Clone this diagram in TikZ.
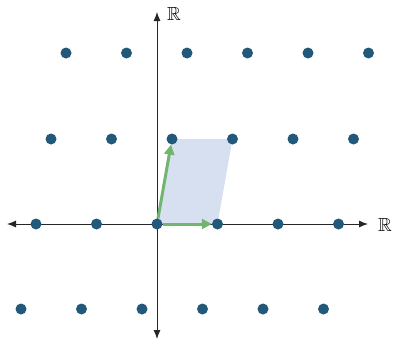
\documentclass[tikz,border=0pt]{standalone}
\usepackage{amssymb}
\usetikzlibrary{arrows.meta,backgrounds}
\definecolor{dotc}{HTML}{22597A}
\definecolor{vecc}{HTML}{72B56F}
\definecolor{cellc}{HTML}{D6E0F1}
\tikzset{
  pt/.style={circle,fill=dotc,inner sep=0pt,minimum size=11pt},
  axis/.style={line width=0.9pt,draw=black!85,{Latex[length=9pt,width=7pt]}-{Latex[length=9pt,width=7pt]}},
  vec/.style={line width=3pt,draw=vecc,-{Triangle[length=10pt,width=10pt]}},
  lbl/.style={font=\fontsize{19}{21}\selectfont}
}
\begin{document}
\begin{tikzpicture}[x=1pt,y=-1pt]
\useasboundingbox (0,0) rectangle (393,340);
% lattice points
\foreach \j/\y/\x in {0/224/157, 1/139/172, 2/53/187, -1/309/142}{
  \foreach \k in {-2,...,3}{
    \node[pt] (p\k\j) at ({\x+60.5*\k},\y) {};
  }
}
\coordinate (xl) at (7,224);
\coordinate (xr) at (368,224);
\coordinate (yt) at (157,12);
\coordinate (yb) at (157,339);
\node[lbl] (lx) at (385,225) {$\mathbb{R}$};
\node[lbl] (ly) at (174,14) {$\mathbb{R}$};
\begin{scope}[on background layer]
  \fill[cellc] (p00.center) -- (p10.center) -- (p11.center) -- (p01.center) -- cycle;
  \draw[axis] (xl) -- (xr);
  \draw[axis] (yb) -- (yt);
\end{scope}
\draw[vec] (p00) -- (p10);
\draw[vec] (p00) -- (p01);
\end{tikzpicture}
\end{document}
